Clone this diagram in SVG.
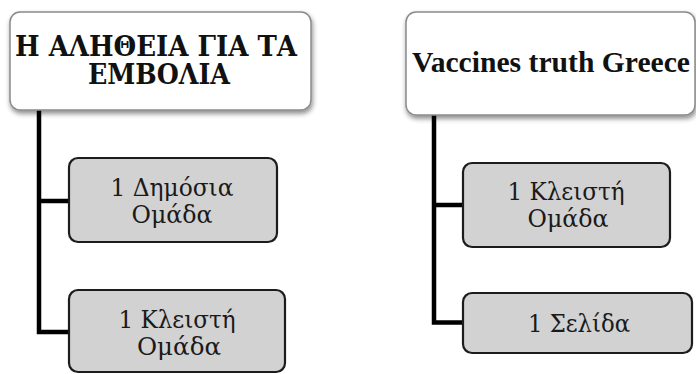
<svg xmlns="http://www.w3.org/2000/svg" width="696" height="374" viewBox="0 0 696 374">
<defs>
<filter id="sh" x="-10%" y="-10%" width="125%" height="135%">
<feDropShadow dx="1" dy="3" stdDeviation="2.5" flood-color="#000" flood-opacity="0.45"/>
</filter>
<style>
.top{fill:#fff;stroke:#8a8a8a;stroke-width:1.5}
.child{fill:#d2d2d2;stroke:#1c1c1c;stroke-width:2.2}
.tt{font-family:"DejaVu Serif","Liberation Serif",serif;font-weight:bold;font-size:27px;fill:#111;text-anchor:middle}
.vt{font-family:"Liberation Serif",serif;font-weight:bold;font-size:29px;fill:#111;text-anchor:middle}
.ct{font-family:"DejaVu Serif","Liberation Serif",serif;font-size:24px;fill:#1a1a1a;text-anchor:middle}
.conn{fill:none;stroke:#000;stroke-width:4.5;stroke-linejoin:miter}
</style>
</defs>
<rect width="696" height="374" fill="#fff"/>
<g id="connectors">
<path class="conn" d="M39,108 V332 H70 M39,201 H70"/>
<path class="conn" d="M434,113 V322.5 H464 M434,205 H464"/>
</g>
<g id="node-left-top">
<rect class="top" x="10" y="12" width="301" height="98" rx="10" filter="url(#sh)"/>
<text class="tt" x="156" y="56" textLength="282" lengthAdjust="spacingAndGlyphs">Η ΑΛΗΘΕΙΑ ΓΙΑ ΤΑ</text>
<text class="tt" x="159" y="84" textLength="142" lengthAdjust="spacingAndGlyphs">ΕΜΒΟΛΙΑ</text>
</g>
<g id="node-right-top">
<rect class="top" x="406" y="12" width="289" height="103" rx="10" filter="url(#sh)"/>
<text class="vt" x="551" y="72" textLength="278" lengthAdjust="spacingAndGlyphs">Vaccines truth Greece</text>
</g>
<g id="node-left-1">
<rect class="child" x="69" y="158" width="208" height="84" rx="9"/>
<text class="ct" x="172" y="196" textLength="123" lengthAdjust="spacingAndGlyphs">1 Δημόσια</text>
<text class="ct" x="172" y="223" textLength="81" lengthAdjust="spacingAndGlyphs">Ομάδα</text>
</g>
<g id="node-left-2">
<rect class="child" x="69" y="290" width="216" height="82" rx="9"/>
<text class="ct" x="177" y="328" textLength="117" lengthAdjust="spacingAndGlyphs">1 Κλειστή</text>
<text class="ct" x="179" y="355" textLength="84" lengthAdjust="spacingAndGlyphs">Ομάδα</text>
</g>
<g id="node-right-1">
<rect class="child" x="463" y="163" width="207" height="84" rx="9"/>
<text class="ct" x="566" y="200" textLength="117" lengthAdjust="spacingAndGlyphs">1 Κλειστή</text>
<text class="ct" x="568" y="227" textLength="81" lengthAdjust="spacingAndGlyphs">Ομάδα</text>
</g>
<g id="node-right-2">
<rect class="child" x="463" y="293" width="229" height="60" rx="9"/>
<text class="ct" x="579" y="332" textLength="102" lengthAdjust="spacingAndGlyphs">1 Σελίδα</text>
</g>
</svg>
